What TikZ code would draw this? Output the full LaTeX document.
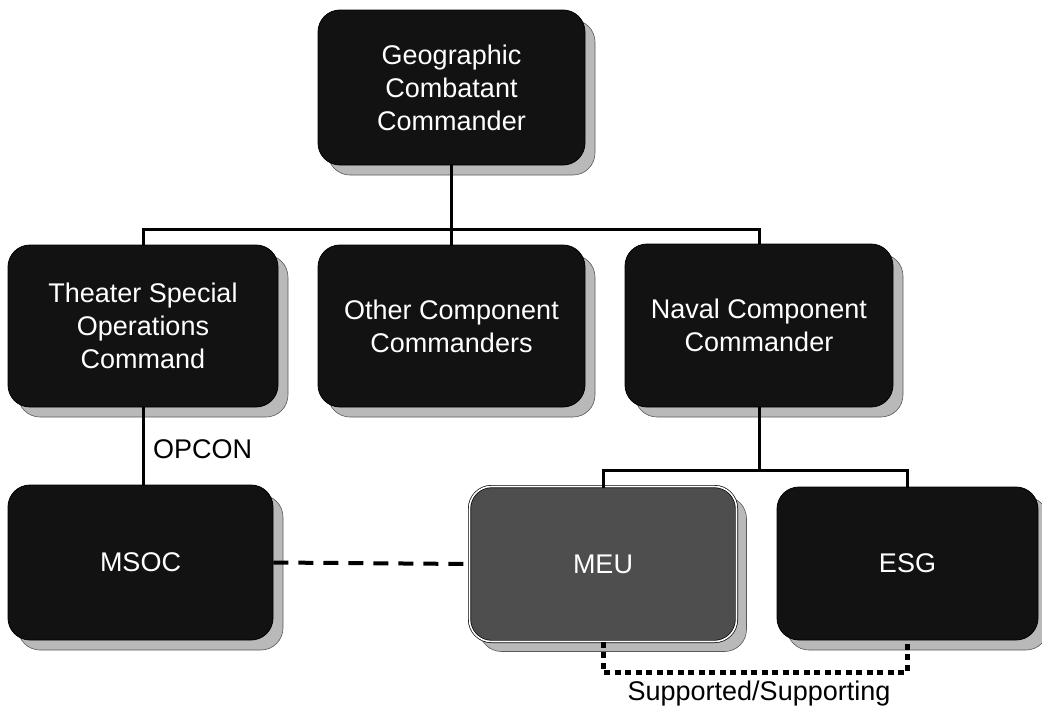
\documentclass[tikz,border=0pt]{standalone}
\usepackage{fontspec}
\setmainfont{Liberation Sans}
\usetikzlibrary{shadows}
\definecolor{boxblack}{RGB}{18,18,18}
\definecolor{meugray}{RGB}{78,78,78}
\definecolor{shadowgray}{RGB}{185,185,185}
\begin{document}
\begin{tikzpicture}[x=1pt,y=-1pt,
  orgbox/.style={rounded corners=22pt, fill=boxblack, draw=black, line width=0.8pt,
    text=white, align=center, inner sep=0pt,
    font=\fontsize{27}{33}\selectfont,
    drop shadow={shadow xshift=10pt, shadow yshift=-10pt, fill=shadowgray, draw=gray!70!black, line width=0.6pt, opacity=1}},
  meubox/.style={orgbox, fill=meugray, draw=black, double=white, double distance=1.6pt, line width=0.7pt},
  link/.style={line width=3pt, line cap=rect},
  dashlink/.style={line width=4pt, dash pattern=on 15pt off 10pt},
  dotlink/.style={line width=5pt, dash pattern=on 6pt off 4.5pt},
  lbl/.style={text=black, inner sep=0pt, font=\fontsize{27}{33}\selectfont}
]
\useasboundingbox (0,0) rectangle (1042,712);

\node[orgbox, minimum width=267pt, minimum height=155pt] (gcc) at (451.5,87.5) {Geographic\\Combatant\\Commander};
\node[orgbox, minimum width=270pt, minimum height=162pt] (tsoc) at (143,326) {Theater Special\\Operations\\Command};
\node[orgbox, minimum width=267pt, minimum height=162pt] (occ) at (451.5,326) {Other Component\\Commanders};
\node[orgbox, minimum width=268pt, minimum height=163pt] (ncc) at (759,325.5) {Naval Component\\Commander};
\node[orgbox, minimum width=265pt, minimum height=155pt] (msoc) at (140.5,562.5) {MSOC};
\node[meubox, minimum width=267pt, minimum height=155pt] (meu) at (603,564) {MEU};
\node[orgbox, minimum width=261pt, minimum height=153pt] (esg) at (907.5,563.5) {ESG};

\coordinate (bus) at (451.5,229);
\coordinate (nbus) at (759,470);
\coordinate (dbus) at (603,672);

\draw[link] (gcc.south) -- (occ.north);
\draw[link] (tsoc.north) -- (tsoc.north |- bus) -- (ncc.north |- bus) -- (ncc.north);
\draw[link] (tsoc.south) -- (tsoc.south |- msoc.north);
\draw[link] (ncc.south) -- (nbus);
\draw[link] (meu.north) -- (meu.north |- nbus) -- (esg.north |- nbus) -- (esg.north);
\draw[dashlink] (msoc.east) -- (meu.west);
\draw[dotlink] (meu.south) -- (dbus) -- (esg.south |- dbus) -- (esg.south);

\node[lbl, anchor=west] (opcon) at (153,449) {OPCON};
\node[lbl] (supp) at (759,694) {Supported/Supporting};
\end{tikzpicture}
\end{document}
